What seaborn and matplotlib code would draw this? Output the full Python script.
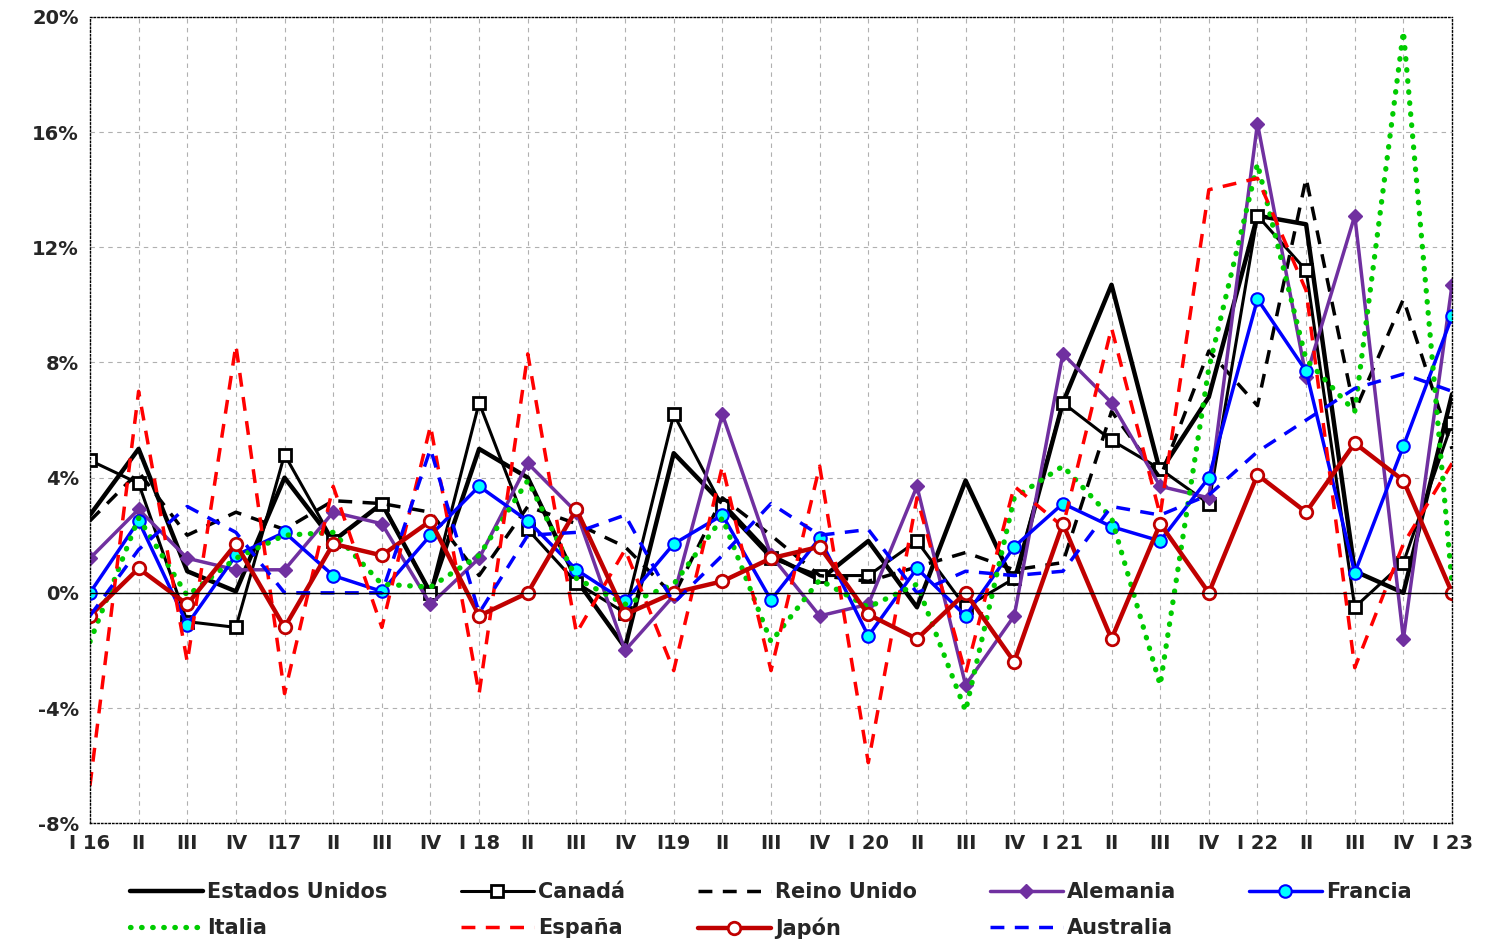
import pandas as pd
import seaborn as sns
import matplotlib.pyplot as plt
from matplotlib.ticker import FuncFormatter

sns.set_style('white')
plt.rcParams['font.family'] = ['DejaVu Sans']

trimestres = ['I 16', 'II', 'III', 'IV', 'I17', 'II', 'III', 'IV', 'I 18', 'II', 'III', 'IV',
              'I19', 'II', 'III', 'IV', 'I 20', 'II', 'III', 'IV', 'I 21', 'II', 'III', 'IV',
              'I 22', 'II', 'III', 'IV', 'I 23']

estados_unidos = [2.7, 5.0, 0.75, 0.05, 4.0, 1.8, 3.1, 0.0, 5.0, 4.0, 0.45, -1.9, 4.85, 3.1, 1.3,
                  0.45, 1.8, -0.5, 3.9, 0.3, 6.6, 10.7, 4.2, 6.8, 13.1, 12.8, 0.75, 0.0, 6.9]
canada = [4.6, 3.8, -1.0, -1.2, 4.8, 1.8, 3.1, 0.0, 6.6, 2.2, 0.35, -0.7, 6.2, 3.0, 1.2,
          0.6, 0.6, 1.8, -0.5, 0.5, 6.6, 5.3, 4.3, 3.1, 13.1, 11.2, -0.5, 1.05, 5.9]
reino_unido = [2.5, 4.2, 2.0, 2.8, 2.2, 3.2, 3.1, 2.8, 0.6, 3.0, 2.4, 1.6, -0.1, 3.3, 2.0,
               0.6, 0.4, 0.9, 1.4, 0.8, 1.05, 6.3, 4.0, 8.4, 6.5, 14.4, 6.3, 10.2, 5.0]
alemania = [1.2, 2.9, 1.2, 0.8, 0.8, 2.8, 2.4, -0.4, 1.2, 4.5, 2.8, -2.0, -0.1, 6.2, 1.3,
            -0.8, -0.4, 3.7, -3.2, -0.8, 8.3, 6.6, 3.7, 3.3, 16.3, 7.5, 13.1, -1.6, 10.7]
francia = [0.0, 2.5, -1.1, 1.3, 2.1, 0.6, 0.05, 2.0, 3.7, 2.5, 0.8, -0.3, 1.7, 2.7, -0.25,
           1.9, -1.5, 0.85, -0.8, 1.6, 3.1, 2.3, 1.8, 4.0, 10.2, 7.7, 0.7, 5.1, 9.6]
italia = [-1.7, 2.6, -0.1, 1.2, 2.0, 2.1, 0.3, 0.2, 1.3, 3.9, 0.5, -0.4, 0.3, 2.6, -1.7,
          0.45, -0.5, 0.3, -4.1, 3.3, 4.4, 2.6, -3.2, 7.8, 14.9, 8.1, 6.3, 19.5, 0.3]
espana = [-6.7, 7.0, -2.4, 8.6, -3.5, 3.7, -1.2, 5.8, -3.5, 8.3, -1.4, 1.5, -2.7, 4.4, -2.7,
          4.4, -5.9, 3.3, -2.8, 3.7, 2.3, 9.2, 2.7, 14.0, 14.4, 10.5, -2.6, 1.7, 4.5]
japon = [-0.8, 0.85, -0.4, 1.7, -1.2, 1.7, 1.3, 2.5, -0.8, 0.0, 2.9, -0.75, 0.0, 0.4, 1.2,
         1.6, -0.75, -1.6, 0.0, -2.4, 2.4, -1.6, 2.4, 0.0, 4.1, 2.8, 5.2, 3.9, 0.0]
australia = [-0.8, 1.5, 3.0, 2.1, 0.0, 0.0, 0.0, 5.0, -0.7, 2.0, 2.1, 2.7, -0.35, 1.3, 3.1,
             2.0, 2.2, 0.0, 0.75, 0.6, 0.75, 3.0, 2.7, 3.4, 4.9, 6.0, 7.1, 7.6, 7.0]

dash = (0, (4, 3))
series = [
    ('Estados Unidos', estados_unidos, dict(color='black', lw=3.2, ls='-', marker='')),
    ('Canadá', canada, dict(color='black', lw=2.2, ls='-', marker='s', ms=8, mfc='white', mec='black', mew=2)),
    ('Reino Unido', reino_unido, dict(color='black', lw=2.5, ls=dash, marker='')),
    ('Alemania', alemania, dict(color='#7030a0', lw=2.5, ls='-', marker='D', ms=7, mfc='#7030a0', mec='#7030a0', mew=1)),
    ('Francia', francia, dict(color='#0000ff', lw=2.5, ls='-', marker='o', ms=9, mfc='#00ffff', mec='#0000ff', mew=1.5)),
    ('Italia', italia, dict(color='#00cc00', lw=3.8, ls=(0, (0.1, 2.0)), marker='')),
    ('España', espana, dict(color='#ff0000', lw=2.5, ls=dash, marker='')),
    ('Japón', japon, dict(color='#c00000', lw=3.2, ls='-', marker='o', ms=9, mfc='white', mec='#c00000', mew=2)),
    ('Australia', australia, dict(color='#0000ff', lw=2.5, ls=dash, marker='')),
]

fig, ax = plt.subplots(figsize=(14.87, 9.44), dpi=100)
fig.subplots_adjust(left=0.0605, right=0.9765, top=0.982, bottom=0.128)

x = list(range(len(trimestres)))
handles = []
for nombre, valores, estilo in series:
    df = pd.DataFrame({'x': x, 'v': valores})
    sns.lineplot(data=df, x='x', y='v', ax=ax, legend=False)
    linea = ax.get_lines()[-1]
    linea.set(label=nombre, color=estilo['color'], linewidth=estilo['lw'],
              linestyle=estilo['ls'], marker=estilo['marker'])
    if estilo['marker']:
        linea.set(markersize=estilo['ms'], markerfacecolor=estilo['mfc'],
                  markeredgecolor=estilo['mec'], markeredgewidth=estilo['mew'])
    if nombre == 'Italia':
        linea.set_dash_capstyle('round')
    handles.append(linea)

ax.axhline(0, color='black', lw=1)
ax.set_xlim(0, len(trimestres) - 1)
ax.set_ylim(-8, 20)
ax.set_yticks(range(-8, 21, 4))
ax.yaxis.set_major_formatter(FuncFormatter(lambda v, p: f'{v:.0f}%'))
ax.set_xticks(x)
ax.set_xticklabels(trimestres)
ax.set_xlabel('')
ax.set_ylabel('')
ax.tick_params(axis='both', labelsize=14, length=0, pad=8)
for t in ax.get_xticklabels() + ax.get_yticklabels():
    t.set_fontweight('bold')
ax.grid(True, color='#b0b0b0', ls=(0, (4, 4)), lw=0.8)
for s in ax.spines.values():
    s.set_linestyle(':')
    s.set_color('black')
    s.set_linewidth(1)

# matplotlib fills legend by column: reorder so rows read left to right
orden = [0, 5, 1, 6, 2, 7, 3, 8, 4]
ax.legend([handles[i] for i in orden], [handles[i].get_label() for i in orden],
          loc='upper center', bbox_to_anchor=(0.5, -0.05), ncol=5, frameon=False,
          prop={'size': 15, 'weight': 'bold'}, handlelength=3.5, columnspacing=3.5,
          labelspacing=0.75, handletextpad=0.2)

fig.savefig('out.png')
